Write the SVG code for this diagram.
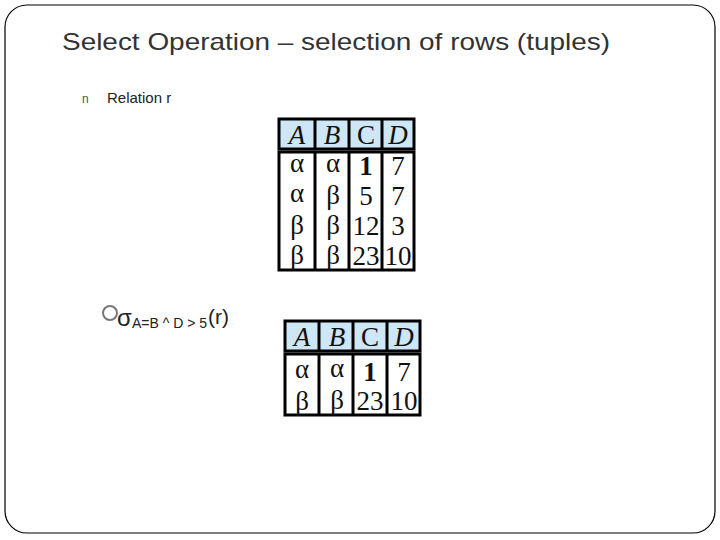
<svg xmlns="http://www.w3.org/2000/svg" width="720" height="540" viewBox="0 0 720 540">
<style>
.s{font-family:"Liberation Sans",Arial,sans-serif;fill:#222}
.t{font-family:"Liberation Serif","Times New Roman",serif;font-size:27px;fill:#111;text-anchor:middle}
.i{font-style:italic}
.h{fill:#cde7f6;stroke:#000;stroke-width:3}
.b{fill:#fff;stroke:#000;stroke-width:3}
.l{stroke:#000;stroke-width:3}
</style>
<rect width="720" height="540" fill="#fff"/>
<rect x="5" y="5" width="710" height="528" rx="22" fill="none" stroke="#000" stroke-width="1.2"/>
<g id="title"><text class="s" x="62" y="50" font-size="24" textLength="548" lengthAdjust="spacingAndGlyphs" style="fill:#333">Select Operation – selection of rows (tuples)</text></g>
<g id="bullet1"><text class="s" x="82" y="103" font-size="12" style="fill:#555">n</text><text class="s" x="107" y="103" font-size="15">Relation r</text></g>
<g id="table1">
<rect class="h" x="279" y="119" width="135" height="30"/>
<line class="l" x1="315" y1="119" x2="315" y2="149"/><line class="l" x1="349" y1="119" x2="349" y2="149"/><line class="l" x1="382" y1="119" x2="382" y2="149"/>
<text class="t i" x="297" y="144">A</text><text class="t i" x="332" y="144">B</text><text class="t" x="366" y="144">C</text><text class="t i" x="398" y="144">D</text>
<rect class="b" x="279" y="152" width="135" height="118"/>
<line class="l" x1="315" y1="152" x2="315" y2="270"/><line class="l" x1="349" y1="152" x2="349" y2="270"/><line class="l" x1="382" y1="152" x2="382" y2="270"/>
<g class="t"><text x="297" y="172">α</text><text x="333" y="172">α</text><text x="366" y="175" font-weight="bold">1</text><text x="398" y="175">7</text>
<text x="297" y="202">α</text><text x="333" y="204">β</text><text x="366" y="205">5</text><text x="398" y="205">7</text>
<text x="297" y="234">β</text><text x="333" y="234">β</text><text x="366" y="235">12</text><text x="398" y="235">3</text>
<text x="297" y="264">β</text><text x="333" y="264">β</text><text x="366" y="265">23</text><text x="398" y="265">10</text></g>
</g>
<g id="expr"><circle cx="110" cy="313" r="7" fill="none" stroke="#777" stroke-width="2"/>
<text class="s" x="117" y="326" font-size="24">σ</text><text class="s" x="132" y="328" font-size="14">A=B ^ D &gt; 5</text><text class="s" x="208" y="324" font-size="21">(r)</text></g>
<g id="table2">
<rect class="h" x="285" y="321" width="135" height="30"/>
<line class="l" x1="319" y1="321" x2="319" y2="351"/><line class="l" x1="353" y1="321" x2="353" y2="351"/><line class="l" x1="387" y1="321" x2="387" y2="351"/>
<text class="t i" x="302" y="346">A</text><text class="t i" x="337" y="346">B</text><text class="t" x="370" y="346">C</text><text class="t i" x="404" y="346">D</text>
<rect class="b" x="285" y="354" width="135" height="61"/>
<line class="l" x1="319" y1="354" x2="319" y2="415"/><line class="l" x1="353" y1="354" x2="353" y2="415"/><line class="l" x1="387" y1="354" x2="387" y2="415"/>
<g class="t"><text x="302" y="378">α</text><text x="337" y="377">α</text><text x="370" y="381" font-weight="bold">1</text><text x="404" y="381">7</text>
<text x="302" y="410">β</text><text x="337" y="409">β</text><text x="370" y="410">23</text><text x="404" y="410">10</text></g>
</g>
</svg>
